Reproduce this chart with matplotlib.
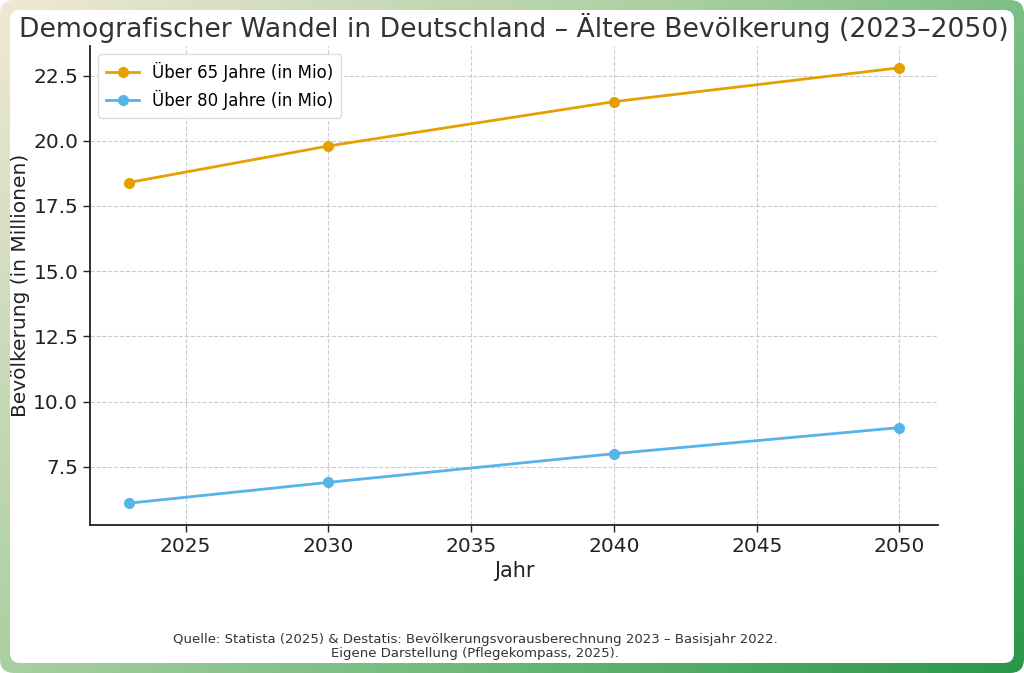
import numpy as np
import matplotlib
matplotlib.use("Agg")
import matplotlib.pyplot as plt
from matplotlib.patches import FancyBboxPatch
from matplotlib.colors import LinearSegmentedColormap

years = [2023, 2030, 2040, 2050]
over65 = [18.4, 19.8, 21.5, 22.8]
over80 = [6.1, 6.9, 8.0, 9.0]
label65 = "Über 65 Jahre (in Mio)"
label80 = "Über 80 Jahre (in Mio)"
title = "Demografischer Wandel in Deutschland – Ältere Bevölkerung (2023–2050)"
xlabel = "Jahr"
ylabel = "Bevölkerung (in Millionen)"
source = ("Quelle: Statista (2025) & Destatis: Bevölkerungsvorausberechnung 2023 – Basisjahr 2022.\n"
          "Eigene Darstellung (Pflegekompass, 2025).")

W, H = 1024, 673
fig = plt.figure(figsize=(W / 100, H / 100), dpi=100)
fig.patch.set_facecolor("white")

# background frame with gradient
bg = fig.add_axes([0, 0, 1, 1], zorder=-10)
bg.set_xlim(0, W)
bg.set_ylim(0, H)
bg.axis("off")
xx, yy = np.meshgrid(np.linspace(0, 1, 256), np.linspace(0, 1, 256))
t = (xx * 0.6 + yy * 0.4)
cmap = LinearSegmentedColormap.from_list(
    "frame", [(0, "#F0E8D4"), (0.4, "#A9CFA0"), (0.65, "#72BC7E"), (1, "#2A974A")])
im = bg.imshow(t, cmap=cmap, extent=[0, W, 0, H], origin="upper", aspect="auto", zorder=0)
outer = FancyBboxPatch((12, 12), W - 24, H - 24, boxstyle="round,pad=12,rounding_size=14",
                       transform=bg.transData, facecolor="none", edgecolor="none")
bg.add_patch(outer)
im.set_clip_path(outer)
inner = FancyBboxPatch((20, 20), W - 40, H - 40, boxstyle="round,pad=10,rounding_size=10",
                       facecolor="white", edgecolor="none", zorder=1)
bg.add_patch(inner)

ax = fig.add_axes([90 / W, 1 - 525 / H, (938 - 90) / W, (525 - 46) / H])
ax.set_facecolor("none")
ax.plot(years, over65, marker="o", color="#E69F00", linewidth=2, markersize=7, label=label65)
ax.plot(years, over80, marker="o", color="#56B4E9", linewidth=2, markersize=7, label=label80)
ax.grid(True, linestyle="--", color="#cccccc", linewidth=0.8)
ax.set_axisbelow(True)
ax.spines["top"].set_visible(False)
ax.spines["right"].set_visible(False)
for s in ("left", "bottom"):
    ax.spines[s].set_color("#222222")
    ax.spines[s].set_linewidth(1.3)
ax.tick_params(labelsize=14.5, colors="#222222", length=5, width=1)
ax.set_xticks([2025, 2030, 2035, 2040, 2045, 2050])
ax.set_yticks([7.5, 10.0, 12.5, 15.0, 17.5, 20.0, 22.5])
ax.set_xlabel(xlabel, fontsize=15, color="#222222")
ax.set_ylabel(ylabel, fontsize=14.5, color="#222222", labelpad=2)
ax.legend(loc="upper left", fontsize=12, frameon=True, framealpha=1, edgecolor="#dddddd",
          borderpad=0.45, handlelength=2.0)
fig.text(514 / W, 1 - 28 / H, title, ha="center", va="center", fontsize=19.2, color="#333333")
fig.text(475 / W, 1 - 647 / H, source, ha="center", va="center", fontsize=9.5, color="#333333",
         linespacing=1.1)
fig.savefig("out.png", dpi=100)
